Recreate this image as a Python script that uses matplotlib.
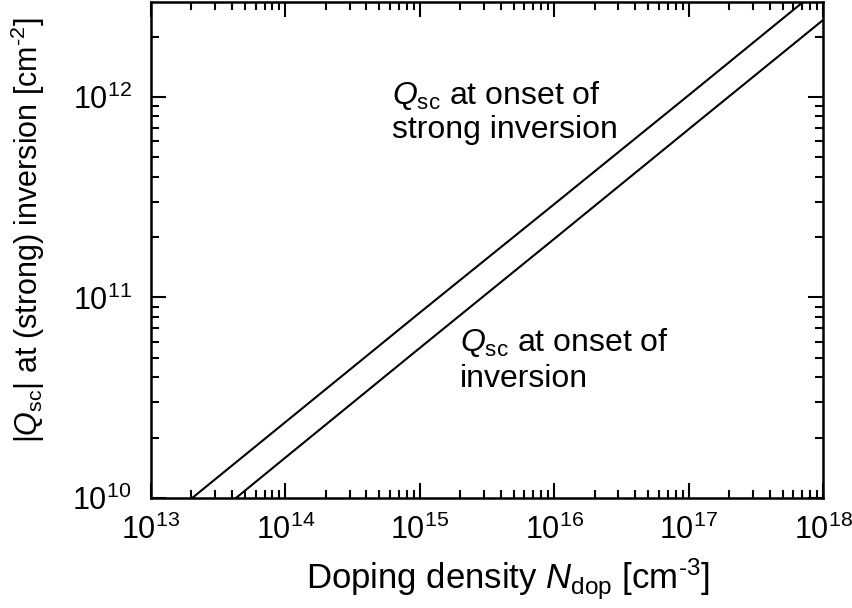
import matplotlib
matplotlib.use("Agg")
from matplotlib import pyplot as plt
from matplotlib.ticker import LogLocator, NullFormatter

# values
n_dop = [1e13, 1e14, 1e15, 1e16, 1e17, 1e18]
q_strong = [6.8e9, 2.39e10, 8.4e10, 2.92e11, 1.02e12, 3.59e12]
q_onset = [4.5e9, 1.59e10, 5.6e10, 1.96e11, 6.9e11, 2.42e12]

plt.rcParams["font.family"] = ["Liberation Sans", "DejaVu Sans"]
plt.rcParams["mathtext.fontset"] = "custom"
plt.rcParams["mathtext.rm"] = "Liberation Sans"
plt.rcParams["mathtext.it"] = "Liberation Sans:italic"
plt.rcParams["mathtext.default"] = "regular"

fig = plt.figure(figsize=(8.53, 6.08), dpi=100)
ax = fig.add_axes([0.177, 0.181, 0.788, 0.816])

ax.plot(n_dop, q_strong, color="black", lw=1.5)
ax.plot(n_dop, q_onset, color="black", lw=1.5)

ax.set_xscale("log")
ax.set_yscale("log")
ax.set_xlim(1e13, 1e18)
ax.set_ylim(1e10, 2.98e12)

for a in (ax.xaxis, ax.yaxis):
    a.set_major_locator(LogLocator(base=10, numticks=10))
    a.set_minor_locator(LogLocator(base=10, subs=range(2, 10), numticks=20))
    a.set_minor_formatter(NullFormatter())

ax.tick_params(which="both", direction="in", top=True, right=True, width=1.5)
ax.tick_params(which="major", length=11, labelsize=22)
ax.tick_params(axis="x", which="major", pad=12)
ax.tick_params(axis="y", which="major", pad=14)
ax.tick_params(which="minor", length=6)
for s in ax.spines.values():
    s.set_linewidth(1.8)

ax.set_xlabel(r"Doping density $\mathit{N}_{\rm dop}$ [cm$^{\text{-3}}$]",
              fontsize=25, labelpad=8)
ax.set_ylabel(r"|$\mathit{Q}_{\rm sc}$| at (strong) inversion [cm$^{\text{-2}}$]",
              fontsize=22, labelpad=18)
ax.xaxis.label.set_x(0.531)
ax.yaxis.label.set_y(0.54)

ax.text(0.359, 0.778, "$\\mathit{Q}_{\\rm sc}$ at onset of\nstrong inversion",
        transform=ax.transAxes, ha="left", va="center", fontsize=23,
        linespacing=1.15)
ax.text(0.46, 0.278, "$\\mathit{Q}_{\\rm sc}$ at onset of\ninversion",
        transform=ax.transAxes, ha="left", va="center", fontsize=23,
        linespacing=1.25)

fig.savefig("out.png", dpi=100)
